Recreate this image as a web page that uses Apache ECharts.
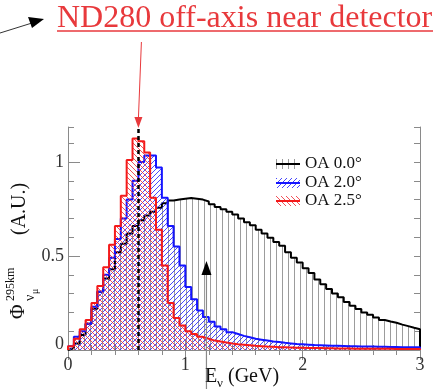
<!DOCTYPE html>
<html>
<head>
<meta charset="utf-8">
<script src="https://cdn.jsdelivr.net/npm/echarts@6/dist/echarts.min.js"></script>
<style>
  html, body { margin: 0; padding: 0; background: #fff; }
  #chart { width: 433px; height: 389px; }
</style>
</head>
<body>
<div id="chart"></div>
<script>
// Neutrino energy spectra at 295 km for three off-axis angles, 0.05 GeV bins from 0 to 3 GeV.
const BIN_WIDTH = 0.05;

// On-axis (OA 0.0°)
const fluxOA00 = [
  0.010, 0.035, 0.080, 0.140, 0.220, 0.310, 0.380, 0.430, 0.520, 0.565,
  0.620, 0.660, 0.690, 0.715, 0.735, 0.757, 0.780, 0.795, 0.800, 0.805,
  0.808, 0.805, 0.800, 0.790, 0.775, 0.760, 0.748, 0.735, 0.720, 0.700,
  0.680, 0.663, 0.640, 0.620, 0.597, 0.575, 0.555, 0.520, 0.490, 0.465,
  0.435, 0.410, 0.375, 0.350, 0.325, 0.300, 0.280, 0.255, 0.235, 0.218,
  0.200, 0.187, 0.173, 0.160, 0.152, 0.145, 0.135, 0.127, 0.118, 0.110
];

// OA 2.0°
const fluxOA20 = [
  0.020, 0.070, 0.100, 0.140, 0.230, 0.310, 0.400, 0.490, 0.590, 0.700,
  0.800, 0.900, 1.000, 1.035, 1.035, 0.970, 0.810, 0.660, 0.550, 0.450,
  0.335, 0.270, 0.210, 0.175, 0.150, 0.125, 0.110, 0.095, 0.085, 0.075,
  0.068, 0.060, 0.055, 0.050, 0.045, 0.042, 0.038, 0.035, 0.032, 0.030,
  0.028, 0.026, 0.025, 0.024, 0.023, 0.022, 0.021, 0.020, 0.020, 0.019,
  0.018, 0.018, 0.017, 0.017, 0.016, 0.016, 0.015, 0.015, 0.015, 0.014
];

// OA 2.5°
const fluxOA25 = [
  0.020, 0.060, 0.110, 0.160, 0.250, 0.340, 0.440, 0.560, 0.660, 0.820,
  1.010, 1.125, 1.110, 1.050, 0.810, 0.640, 0.450, 0.250, 0.170, 0.130,
  0.100, 0.085, 0.070, 0.060, 0.050, 0.045, 0.040, 0.035, 0.031, 0.028,
  0.025, 0.022, 0.020, 0.018, 0.017, 0.015, 0.014, 0.013, 0.012, 0.012,
  0.011, 0.010, 0.010, 0.009, 0.009, 0.008, 0.008, 0.008, 0.007, 0.007,
  0.007, 0.006, 0.006, 0.006, 0.006, 0.005, 0.005, 0.005, 0.005, 0.005
];

const seriesNames = ['OA 0.0°', 'OA 2.0°', 'OA 2.5°'];
const xTickValues = [0, 1, 2, 3];
const yTickValues = [0, 0.5, 1];
const peakMarkerEnergy = 0.6;   // dashed line at the ND280 peak energy
const arrowMarkerEnergy = 1.18; // upward arrow under the on-axis spectrum

const SERIF = '"Liberation Serif", "Times New Roman", serif';

// Histogram outline: one point per bin lower edge, closed down to zero at both ends.
function histPoints(values) {
  const last = +(values.length * BIN_WIDTH).toFixed(2);
  const pts = [[0, 0]];
  values.forEach((v, i) => pts.push([+(i * BIN_WIDTH).toFixed(2), v]));
  pts.push([last, values[values.length - 1]]);
  pts.push([last, 0]);
  return pts;
}

// Hatch fills drawn on small tiles and repeated.
function diagHatch(dir, color, size, lw) {
  const c = document.createElement('canvas');
  c.width = size; c.height = size;
  const g = c.getContext('2d');
  g.strokeStyle = color; g.lineWidth = lw;
  g.beginPath();
  if (dir === '/') {
    g.moveTo(-1, size + 1); g.lineTo(size + 1, -1);
    g.moveTo(-1, 1); g.lineTo(1, -1);
    g.moveTo(size - 1, size + 1); g.lineTo(size + 1, size - 1);
  } else {
    g.moveTo(-1, -1); g.lineTo(size + 1, size + 1);
    g.moveTo(size - 1, -1); g.lineTo(size + 1, 1);
    g.moveTo(-1, size - 1); g.lineTo(1, size + 1);
  }
  g.stroke();
  return { image: c, repeat: 'repeat' };
}
function vertHatch(color, w) {
  const c = document.createElement('canvas');
  c.width = w; c.height = 4;
  const g = c.getContext('2d');
  g.fillStyle = color;
  g.fillRect(0, 0, 1, 4);
  return { image: c, repeat: 'repeat' };
}

const fillBlack = vertHatch('#9c9c9c', 6);
const fillBlue = diagHatch('/', 'rgba(40,40,255,0.85)', 5, 1);
const fillRed = diagHatch('\\', 'rgba(240,50,60,0.85)', 5, 1);

const chart = echarts.init(document.getElementById('chart'), null, { renderer: 'canvas' });

const axisGray = '#8a8a8a';
const xMajor = {
  type: 'value', min: 0, max: 3, interval: 1,
  axisLine: { show: true, lineStyle: { color: axisGray, width: 1 } },
  axisTick: { show: true, inside: true, length: 10, lineStyle: { color: axisGray } },
  minorTick: { show: true, splitNumber: 5, length: 5, lineStyle: { color: axisGray } },
  splitLine: { show: false }
};

const option = {
  animation: false,
  backgroundColor: '#fff',
  grid: { left: 68, right: 13, top: 127, bottom: 39, show: false },
  xAxis: [
    Object.assign({}, xMajor, {
      position: 'bottom',
      axisLabel: {
        show: true, margin: 6, color: '#333', fontFamily: SERIF, fontSize: 18,
        formatter: v => (xTickValues.includes(v) ? String(v) : '')
      }
    }),
    Object.assign({}, xMajor, { position: 'top', axisLabel: { show: false } })
  ],
  yAxis: [
    {
      type: 'value', min: 0, max: 1.186, interval: 0.5, position: 'left',
      axisLine: { show: true, lineStyle: { color: axisGray } },
      axisTick: { show: true, inside: true, length: 12, lineStyle: { color: axisGray } },
      splitLine: { show: false },
      axisLabel: {
        show: true, margin: 4, color: '#333', fontFamily: SERIF, fontSize: 18,
        showMaxLabel: false,
        formatter: v => (yTickValues.includes(v) ? (v === 0 ? '{z|0}' : String(v)) : ''),
        rich: { z: { fontFamily: SERIF, fontSize: 18, color: '#333', padding: [0, 0, 12, 0] } }
      }
    },
    {
      type: 'value', min: 0, max: 1.186, interval: 0.1, position: 'left',
      axisLine: { show: false },
      axisTick: { show: true, inside: true, length: 6, lineStyle: { color: axisGray } },
      axisLabel: { show: false }, splitLine: { show: false }
    },
    {
      type: 'value', min: 0, max: 1.186, interval: 0.1, position: 'right',
      axisLine: { show: true, lineStyle: { color: axisGray } },
      axisTick: { show: true, inside: true, length: 6, lineStyle: { color: axisGray } },
      axisLabel: { show: false }, splitLine: { show: false }
    }
  ],
  series: [
    {
      name: seriesNames[0], type: 'line', step: 'end', data: histPoints(fluxOA00),
      showSymbol: false, symbol: 'none', z: 2,
      lineStyle: { color: '#000', width: 2 },
      areaStyle: { color: fillBlack, opacity: 1 }
    },
    {
      name: seriesNames[1], type: 'line', step: 'end', data: histPoints(fluxOA20),
      showSymbol: false, symbol: 'none', z: 3,
      lineStyle: { color: '#1414ff', width: 2 },
      areaStyle: { color: fillBlue, opacity: 1 }
    },
    {
      name: seriesNames[2], type: 'line', step: 'end', data: histPoints(fluxOA25),
      showSymbol: false, symbol: 'none', z: 4,
      lineStyle: { color: '#f41a1a', width: 2 },
      areaStyle: { color: fillRed, opacity: 1 },
      markLine: {
        silent: true, symbol: 'none', label: { show: false },
        lineStyle: { color: '#000', type: [4, 3], width: 2.5 },
        data: [{ xAxis: peakMarkerEnergy }]
      }
    }
  ]
};
chart.setOption(option);

// Annotation positions follow the axes.
const px = v => chart.convertToPixel({ xAxisIndex: 0 }, v);
const py = v => chart.convertToPixel({ yAxisIndex: 0 }, v);
const xPeak = px(peakMarkerEnergy);
const xArrow = px(arrowMarkerEnergy);
const plotTop = py(1.186);

const red = '#e8393c';
const legendRows = [
  { name: seriesNames[0], fill: fillBlack, line: '#000', y: 164 },
  { name: seriesNames[1], fill: fillBlue, line: '#1414ff', y: 183 },
  { name: seriesNames[2], fill: fillRed, line: '#f41a1a', y: 201 }
];

const legendEls = [];
legendRows.forEach(r => {
  legendEls.push({ type: 'rect', shape: { x: 276, y: r.y - 5, width: 24, height: 10 }, style: { fill: r.fill }, z: 50 });
  legendEls.push({ type: 'line', shape: { x1: 276, y1: r.y, x2: 300, y2: r.y }, style: { stroke: r.line, lineWidth: 2 }, z: 51 });
  legendEls.push({ type: 'text', x: 305, y: r.y, style: { text: r.name, font: '17px ' + SERIF, fill: '#111', verticalAlign: 'middle' }, z: 51 });
});

chart.setOption({
  graphic: [
    // heading with underline
    { type: 'text', x: 57, y: 19, style: { text: 'ND280 off-axis near detector', font: '32px ' + SERIF, fill: red, verticalAlign: 'middle' }, z: 60 },
    { type: 'line', shape: { x1: 57, y1: 31, x2: 440, y2: 31 }, style: { stroke: red, lineWidth: 1.5 }, z: 60 },
    // incoming black arrow at the top left
    { type: 'line', shape: { x1: 0, y1: 33, x2: 32, y2: 23 }, style: { stroke: '#333', lineWidth: 1 }, z: 60 },
    { type: 'polygon', shape: { points: [[44, 19], [28, 17], [32, 28]] }, style: { fill: '#000' }, z: 60 },
    // red arrow down to the peak
    { type: 'line', shape: { x1: xPeak + 3, y1: 42, x2: xPeak, y2: plotTop - 8 }, style: { stroke: red, lineWidth: 1 }, z: 60 },
    { type: 'polygon', shape: { points: [[xPeak - 4, plotTop - 10], [xPeak + 4, plotTop - 10], [xPeak, plotTop + 1]] }, style: { fill: red }, z: 60 },
    // upward arrow in the plot
    { type: 'line', shape: { x1: xArrow, y1: 274, x2: xArrow, y2: 389 }, style: { stroke: '#8a8a8a', lineWidth: 1.2 }, z: 60 },
    { type: 'polygon', shape: { points: [[xArrow - 5, 275], [xArrow + 5, 275], [xArrow, 261]] }, style: { fill: '#000' }, z: 60 },
    // x-axis title
    { type: 'text', x: 205, y: 377, style: { text: 'E', font: '20px ' + SERIF, fill: '#111', verticalAlign: 'middle' }, z: 60 },
    { type: 'text', x: 217, y: 384, style: { text: 'ν', font: '13px ' + SERIF, fill: '#111', verticalAlign: 'middle' }, z: 60 },
    { type: 'text', x: 228, y: 377, style: { text: '(GeV)', font: '20px ' + SERIF, fill: '#111', verticalAlign: 'middle' }, z: 60 },
    // y-axis title, read bottom to top
    {
      type: 'group', x: 31, y: 319, rotation: Math.PI / 2, z: 60,
      children: [
        { type: 'text', x: 0, y: -12, style: { text: 'Φ', font: '20px ' + SERIF, fill: '#111', verticalAlign: 'middle' } },
        { type: 'text', x: 18, y: -20, style: { text: '295km', font: '12px ' + SERIF, fill: '#111', verticalAlign: 'middle' } },
        { type: 'text', x: 18, y: -1, style: { text: 'ν', font: '14px ' + SERIF, fill: '#111', verticalAlign: 'middle' } },
        { type: 'text', x: 25, y: 4, style: { text: 'μ', font: '10px ' + SERIF, fill: '#111', verticalAlign: 'middle' } },
        { type: 'text', x: 84, y: -11, style: { text: '(A.U.)', font: '20px ' + SERIF, fill: '#111', verticalAlign: 'middle' } }
      ]
    }
  ].concat(legendEls)
});
</script>
</body>
</html>
